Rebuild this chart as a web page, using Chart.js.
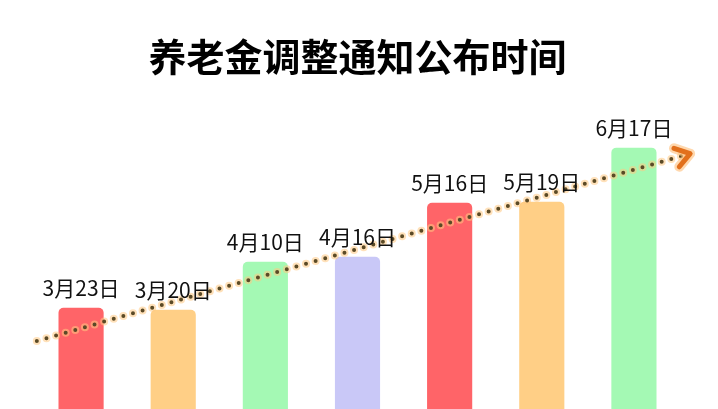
<!DOCTYPE html>
<html>
<head>
<meta charset="utf-8">
<script src="https://cdn.jsdelivr.net/npm/chart.js@4"></script>
<style>
  html, body { margin: 0; padding: 0; background: #fff; }
  #wrap { width: 718px; height: 409px; }
</style>
</head>
<body>
<div id="wrap"><canvas id="pension-chart"></canvas></div>
<script>
// categories and values (relative height of each bar)
const dates = ["3月23日", "3月20日", "4月10日", "4月16日", "5月16日", "5月19日", "6月17日"];
const heights = [101, 99, 147, 152, 206, 207, 261];
const barColors = ['#ff6468', '#ffcf86', '#a4f9b4', '#c9c8f7', '#ff6468', '#ffcf86', '#a4f9b4'];
// dotted trend arrow, from before the first bar to past the last one
const trendX = [-0.48, 6.61];
const trendY = [68, 255];

const trendPoints = trendX.map((x, i) => ({ x: x, y: trendY[i] }));

// writes the date above each bar
const barLabels = {
    id: 'barLabels',
    afterDatasetsDraw(chart) {
        const ctx = chart.ctx;
        const meta = chart.getDatasetMeta(0);
        ctx.save();
        ctx.font = '21px "Noto Sans CJK SC", "Noto Sans", sans-serif';
        ctx.fillStyle = '#111';
        ctx.textAlign = 'center';
        ctx.textBaseline = 'alphabetic';
        meta.data.forEach((bar, i) => {
            ctx.fillText(dates[i], bar.x, bar.y - 12);
        });
        ctx.restore();
    }
};

// arrow head on the end of the trend line
const arrowHead = {
    id: 'arrowHead',
    afterDatasetsDraw(chart) {
        const pts = chart.getDatasetMeta(2).data;
        const a = pts[0], b = pts[pts.length - 1];
        const ang = Math.atan2(b.y - a.y, b.x - a.x);
        const len = 17;
        const ctx = chart.ctx;
        ctx.save();
        ctx.lineCap = 'round';
        ctx.lineJoin = 'round';
        const drawHead = (color, w) => {
            ctx.strokeStyle = color;
            ctx.lineWidth = w;
            ctx.beginPath();
            ctx.moveTo(b.x - len * Math.cos(ang - 0.6), b.y - len * Math.sin(ang - 0.6));
            ctx.lineTo(b.x, b.y);
            ctx.lineTo(b.x - len * Math.cos(ang + 0.6), b.y - len * Math.sin(ang + 0.6));
            ctx.stroke();
        };
        drawHead('rgba(255, 190, 120, 0.6)', 10);
        drawHead('#e2701c', 5);
        ctx.restore();
    }
};

const canvas = document.getElementById('pension-chart');

let pensionChart = new Chart(canvas, {
    type: 'bar',
    data: {
        labels: dates,
        datasets: [{
            type: 'bar',
            data: heights,
            backgroundColor: barColors,
            borderRadius: { topLeft: 5, topRight: 5 },
            borderSkipped: 'start',
            grouped: false,
            categoryPercentage: 1,
            barPercentage: 0.49,
            order: 3
        }, {
            // soft orange halo under the dots
            type: 'line',
            xAxisID: 'x2',
            data: trendPoints,
            borderColor: 'rgba(255, 200, 130, 0.55)',
            borderWidth: 8,
            borderDash: [0, 10],
            borderCapStyle: 'round',
            pointRadius: 0,
            clip: false,
            order: 2
        }, {
            type: 'line',
            xAxisID: 'x2',
            data: trendPoints,
            borderColor: '#5b4a26',
            borderWidth: 4,
            borderDash: [0, 10],
            borderCapStyle: 'round',
            pointRadius: 0,
            clip: false,
            order: 1
        }]
    },
    options: {
        responsive: true,
        maintainAspectRatio: false,
        animation: { duration: 0 },
        layout: {
            padding: { left: 35, right: 38, top: 0, bottom: 0 }
        },
        scales: {
            x: { display: false, offset: true },
            x2: { type: 'linear', display: false, offset: false, min: -0.5, max: 6.5 },
            y: { display: false, min: 0, max: 300 }
        },
        plugins: {
            legend: { display: false },
            tooltip: { enabled: false },
            title: {
                display: true,
                text: '养老金调整通知公布时间',
                color: '#000',
                font: { family: '"Noto Sans CJK SC", sans-serif', size: 38, weight: 'bold', lineHeight: 1.2 },
                padding: { top: 34, bottom: 29 }
            }
        }
    },
    plugins: [barLabels, arrowHead]
});
</script>
</body>
</html>
